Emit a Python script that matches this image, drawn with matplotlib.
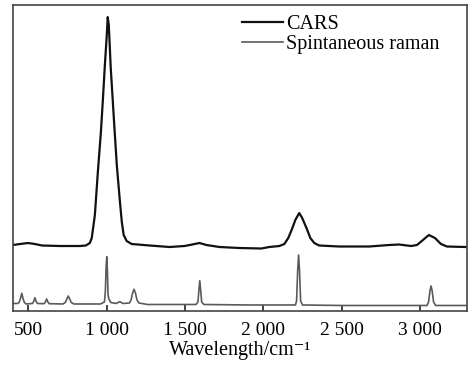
import numpy as np
import matplotlib.pyplot as plt
import matplotlib.ticker as ticker

plt.rcParams["font.family"] = ["Liberation Serif", "DejaVu Serif"]

# CARS spectrum (wavenumber, intensity a.u.)
cars_x = [401, 446, 497, 541, 586, 701, 828, 866, 892, 904, 924, 943, 962,
          975, 987, 1000, 1006, 1013, 1025, 1038, 1051, 1064, 1083, 1096,
          1108, 1127, 1159, 1274, 1401, 1497, 1561, 1592, 1637, 1720, 1847,
          1987, 2038, 2102, 2134, 2159, 2183, 2204, 2229, 2248, 2278, 2300,
          2325, 2357, 2484, 2675, 2803, 2867, 2943, 2981, 3019, 3057, 3096,
          3134, 3172, 3293]
cars_y = [66, 67, 68, 67, 65.5, 65, 65, 65.5, 68, 73, 96, 139, 178,
          211, 244, 276, 294, 286, 244, 211, 178, 146, 111, 89,
          76, 70, 67, 65.5, 64, 65, 67, 68, 66, 64, 63,
          62.5, 64, 65, 67, 73, 82, 91, 98, 93, 82, 73,
          68, 65.5, 64.5, 64.5, 66, 66.5, 65, 66, 71, 76, 73,
          67, 64.5, 64]

# spontaneous Raman spectrum
raman_x = [400, 430, 440, 448, 457, 466, 474, 485, 525, 533, 541, 549, 557,
           600, 608, 616, 624, 632, 720, 735, 745, 754, 763, 773, 790, 960,
           985, 991, 996, 1000, 1004, 1008, 1013, 1018, 1025, 1060, 1083,
           1105, 1145, 1155, 1165, 1174, 1183, 1193, 1205, 1260, 1400, 1570,
           1582, 1588, 1594, 1600, 1606, 1620, 1900, 2000, 2205, 2212, 2219,
           2225, 2231, 2238, 2250, 2500, 3045, 3055, 3064, 3071, 3078, 3087,
           3100, 3300]
raman_y = [7.5, 7.5, 8.5, 12, 17.7, 12, 8.5, 7, 7.5, 9.5, 13.3, 9.5, 7.5,
           7.3, 9, 12, 9, 7.3, 7, 8.5, 12, 15, 12, 8.5, 7, 7,
           9, 20, 45, 54.3, 40, 17, 12, 11, 8.5, 7.5, 9.3,
           7.5, 8, 11, 18, 21.7, 18, 11, 8, 6.5, 6.5, 6.5,
           9, 20, 30.3, 20, 9, 6.5, 6, 6, 6, 10, 40,
           56, 40, 10, 6, 5.5, 5.5, 9, 20, 25, 20, 9,
           5.5, 5.5]

tick_pos = [500, 1000, 1500, 2000, 2500, 3000]
tick_labels = ["500", "1 000", "1 500", "2 000", "2 500", "3 000"]

fig = plt.figure(figsize=(4.75, 3.65), dpi=100)
ax = fig.add_axes([0.027, 0.148, 0.956, 0.838])

ax.plot(cars_x, cars_y, color="#111111", lw=1.6, label="CARS")
ax.plot(raman_x, raman_y, color="#5a5a5a", lw=1.2, label="Spintaneous raman")

ax.set_xlim(400, 3300)
ax.set_ylim(0, 306)
ax.set_xticks(tick_pos)
ax.xaxis.set_major_formatter(ticker.FixedFormatter(tick_labels))
ax.set_yticks([])
ax.tick_params(axis="x", direction="in", length=4, width=1.2, pad=8,
               labelsize=14, color="#222222")
for s in ax.spines.values():
    s.set_color("#444444")
    s.set_linewidth(1.2)

ax.set_xlabel("Wavelength/cm\u207b\u00b9", fontsize=14.5)
ax.xaxis.set_label_coords(0.5, -0.097)

leg = ax.legend(loc="upper left", bbox_to_anchor=(0.505, 0.968), frameon=False,
                fontsize=14.5, handlelength=2.05, handletextpad=0.15,
                borderpad=0, borderaxespad=0, labelspacing=0.05)

fig.savefig("out.png", dpi=100)
